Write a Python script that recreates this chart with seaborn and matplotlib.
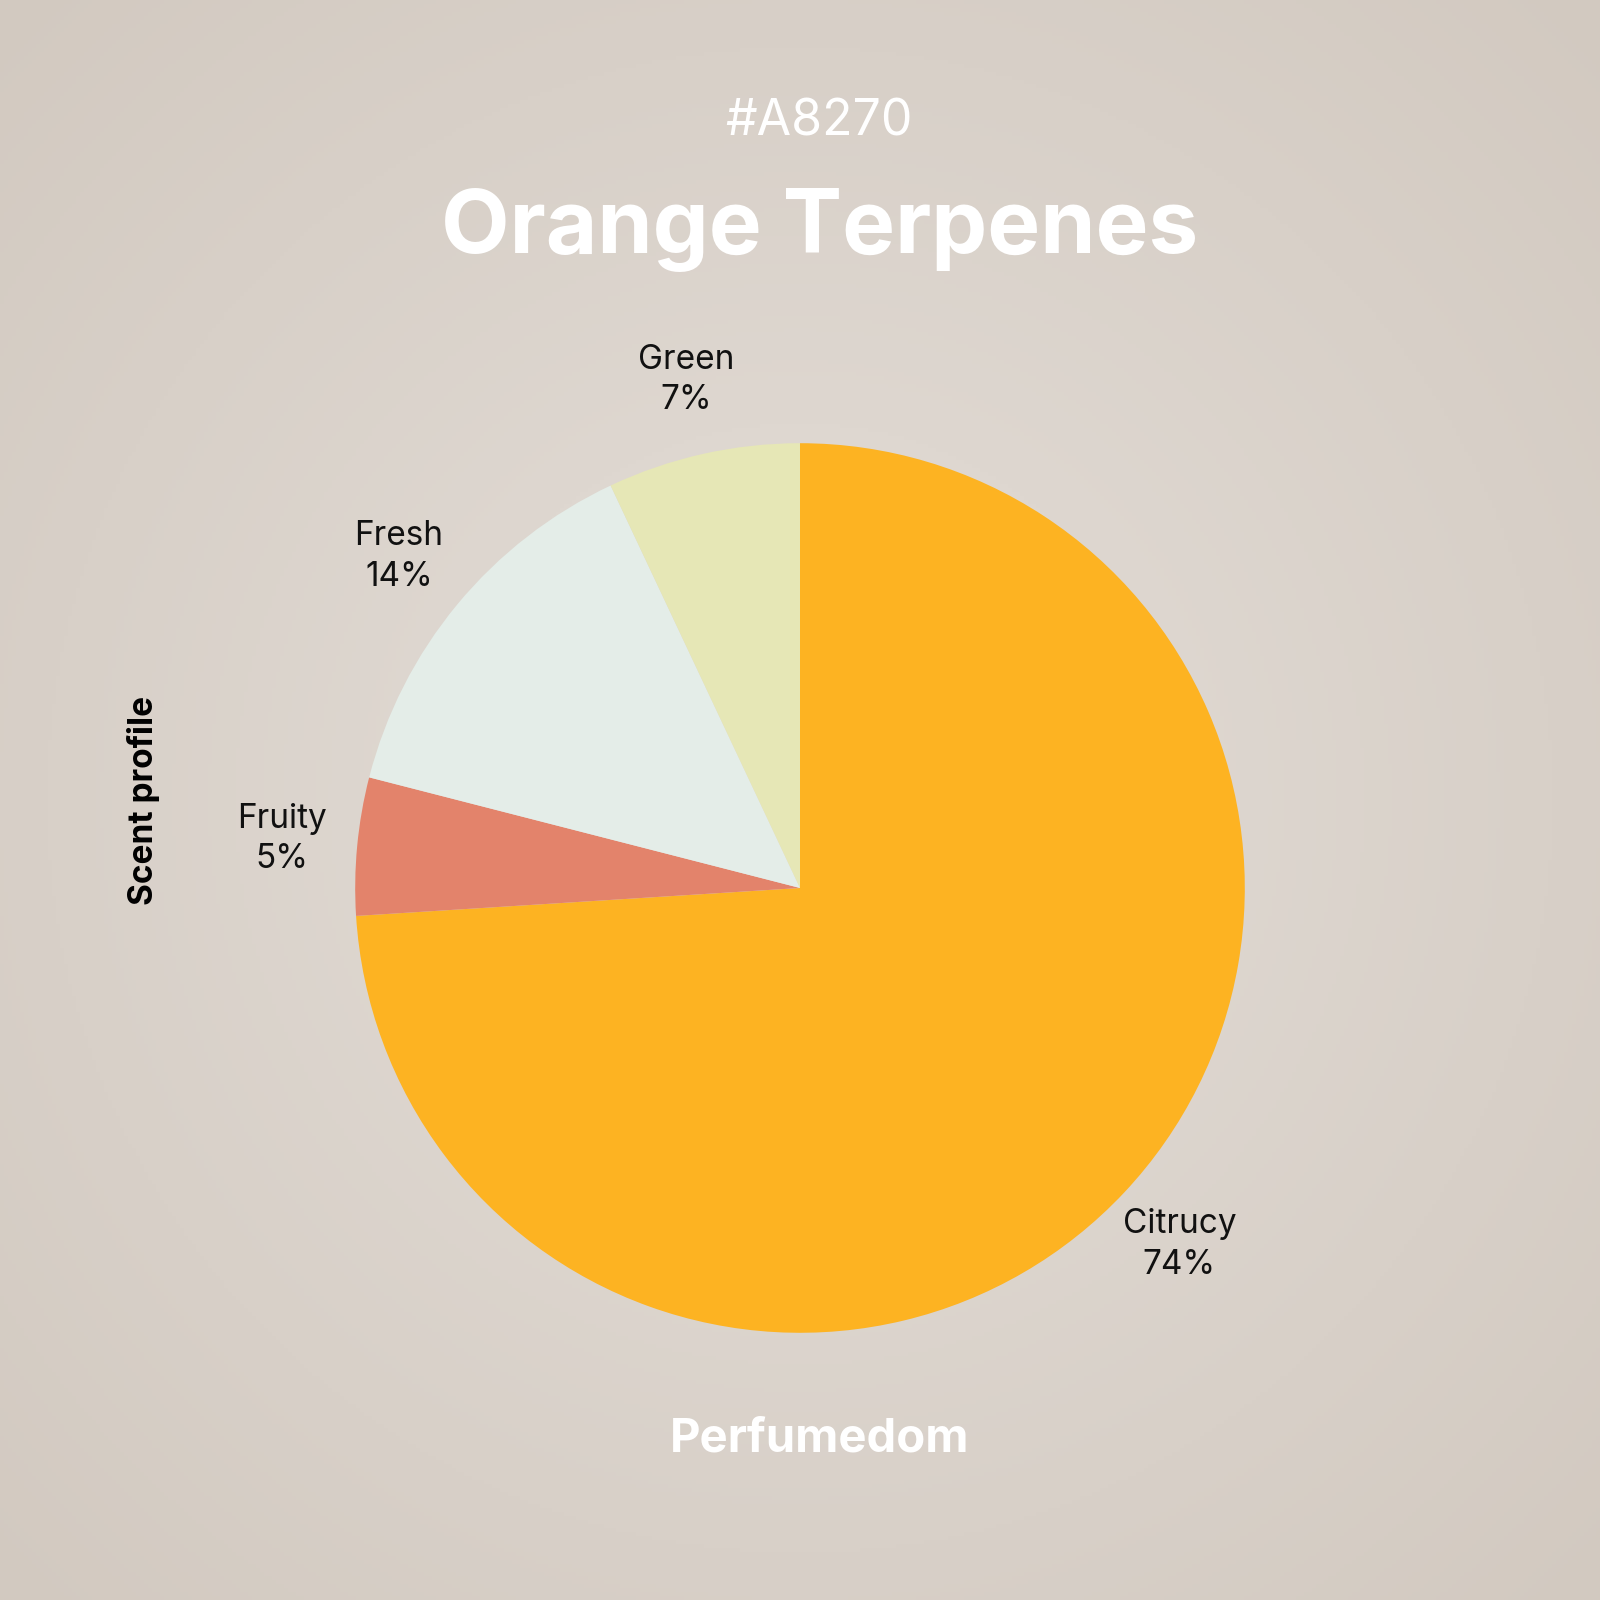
import numpy as np
import matplotlib
matplotlib.use("Agg")
import matplotlib.pyplot as plt
import seaborn as sns

categories = ["Citrucy", "Fruity", "Fresh", "Green"]
values = [74, 5, 14, 7]
colors = ["#FDB322", "#E3836B", "#E4EDE8", "#E6E7B6"]

sns.set_style("white")
plt.rcParams['font.family'] = ['Inter', 'DejaVu Sans']

fig = plt.figure(figsize=(16, 16), dpi=100)
bg = fig.add_axes([0, 0, 1, 1])
y, x = np.mgrid[-1:1:400j, -1:1:400j]
r = np.sqrt(x**2 + y**2) / np.sqrt(2)
c0 = np.array([0xe4, 0xde, 0xd8]) / 255
c1 = np.array([0xd2, 0xc9, 0xc0]) / 255
img = c0[None, None, :] * (1 - r[..., None]) + c1[None, None, :] * r[..., None]
bg.imshow(img, extent=[0, 1, 0, 1], aspect='auto')
bg.axis('off')

ax = fig.add_axes([0.5 - 0.278, 0.445 - 0.278, 0.556, 0.556])
labels = [f"{c}\n{v}%" for c, v in zip(categories, values)]
wedges, texts = ax.pie(values, colors=colors, startangle=90, counterclock=False,
                       labels=labels, labeldistance=1.17,
                       textprops=dict(fontsize=24, color="#111111", ha='center', va='center', linespacing=1.35),
                       wedgeprops=dict(linewidth=0))
for t in texts:
    t.set_horizontalalignment('center')
ax.set_xlim(-1, 1); ax.set_ylim(-1, 1)
ax.set_aspect('equal')
ax.axis('off')

fig.text(0.512, 1 - 122/1600, "#A8270", ha='center', va='center', fontsize=36, color='white')
fig.text(0.512, 1 - 230/1600, "Orange Terpenes", ha='center', va='center', fontsize=64, color='white', fontweight='bold')
fig.text(0.512, 1 - 1440/1600, "Perfumedom", ha='center', va='center', fontsize=34, color='white', fontweight='bold')
fig.text(143/1600, 1 - 800/1600, "Scent profile", ha='center', va='center', fontsize=24, color='black', fontweight='bold', rotation=90)

fig.savefig("out.png", dpi=100)
